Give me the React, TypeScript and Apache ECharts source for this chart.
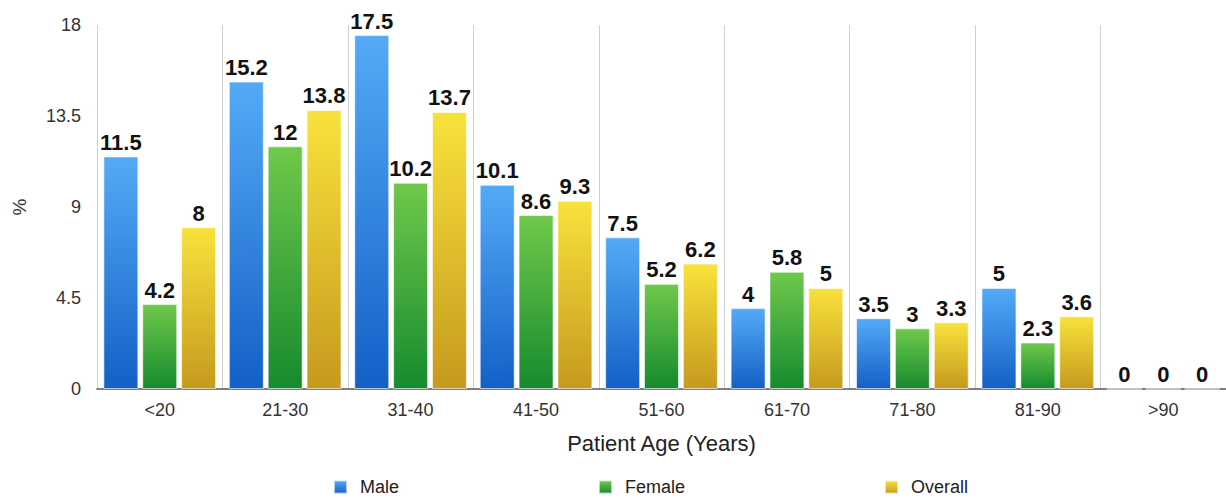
import React, { useEffect, useRef } from "react";
import * as echarts from "echarts";

const categories = ["<20", "21-30", "31-40", "41-50", "51-60", "61-70", "71-80", "81-90", ">90"];
const maleValues = [11.5, 15.2, 17.5, 10.1, 7.5, 4, 3.5, 5, 0];
const femaleValues = [4.2, 12, 10.2, 8.6, 5.2, 5.8, 3, 2.3, 0];
const overallValues = [8, 13.8, 13.7, 9.3, 6.2, 5, 3.3, 3.6, 0];
const yTicks = { min: 0, max: 18, interval: 4.5 };

const FONT = "'Liberation Sans', Arial, Helvetica, sans-serif";

function grad(top: string, bottom: string) {
  return new echarts.graphic.LinearGradient(0, 0, 0, 1, [
    { offset: 0, color: top },
    { offset: 1, color: bottom },
  ]);
}

export default function App() {
  const ref = useRef<HTMLDivElement>(null);
  useEffect(() => {
    document.body.style.margin = "0";
    if (!ref.current) return;
    const chart = echarts.init(ref.current, undefined, { renderer: "svg" });
    const label = {
      show: true,
      position: "top" as const,
      distance: 3,
      fontFamily: FONT,
      fontSize: 22,
      fontWeight: "bold" as const,
      color: "#111",
      textBorderColor: "#fff",
      textBorderWidth: 2,
    };
    const mk = (name: string, data: number[], top: string, bottom: string) => ({
      name,
      type: "bar" as const,
      data,
      barWidth: 35,
      barGap: "11%",
      itemStyle: { color: grad(top, bottom), borderColor: "rgba(255,255,255,0.6)", borderWidth: 1 },
      label,
    });
    chart.setOption({
      animation: false,
      textStyle: { fontFamily: FONT },
      grid: { left: 97, right: -8, top: 25, bottom: 110 },
      legend: {
        top: 478,
        left: 333,
        padding: 0,
        itemWidth: 13,
        itemHeight: 13,
        itemGap: 199,
        icon: "rect",
        textStyle: { fontFamily: FONT, fontSize: 18, lineHeight: 18, color: "#222", padding: [0, 0, 0, 8] },
        data: ["Male", "Female", "Overall"],
      },
      xAxis: {
        type: "category",
        data: categories,
        axisLine: { show: true, lineStyle: { color: "#555", width: 1.5 } },
        axisTick: { show: false },
        axisLabel: { fontSize: 18, color: "#333", margin: 12, fontFamily: FONT },
        splitLine: { show: true, lineStyle: { color: "#cfcfcf", width: 1 } },
        name: "Patient Age (Years)",
        nameLocation: "middle",
        nameGap: 43,
        nameTextStyle: { fontSize: 22, color: "#222", fontFamily: FONT },
      },
      yAxis: {
        type: "value",
        min: yTicks.min,
        max: yTicks.max,
        interval: yTicks.interval,
        axisLine: { show: false },
        axisTick: { show: false },
        splitLine: { show: false },
        axisLabel: { fontSize: 18, color: "#333", margin: 16, fontFamily: FONT },
        name: "%",
        nameLocation: "middle",
        nameGap: 68,
        nameTextStyle: { fontSize: 19, color: "#333", fontFamily: FONT },
      },
      series: [
        mk("Male", maleValues, "#55aaf7", "#1360c6"),
        mk("Female", femaleValues, "#6fc94b", "#168a2e"),
        mk("Overall", overallValues, "#f8e23c", "#c69a1e"),
      ],
    });
    return () => chart.dispose();
  }, []);
  return <div ref={ref} style={{ width: 1226, height: 499 }} />;
}
